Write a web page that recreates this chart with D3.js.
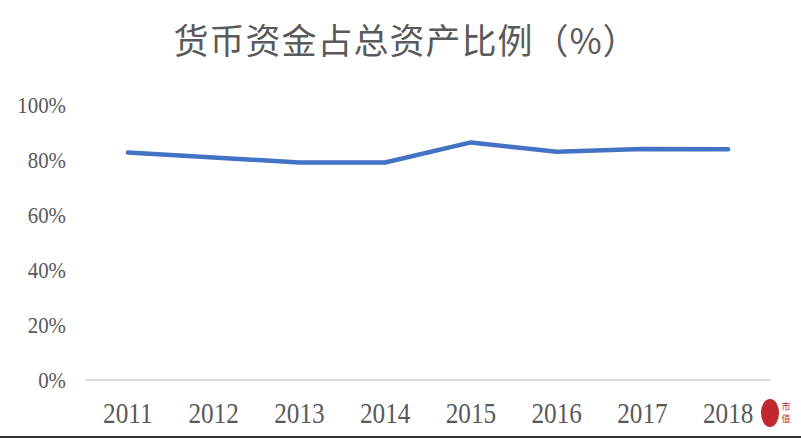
<!DOCTYPE html>
<html>
<head>
<meta charset="utf-8">
<script src="https://cdn.jsdelivr.net/npm/d3@7"></script>
<style>
  html, body { margin: 0; padding: 0; background: #ffffff; }
  svg { display: block; }
</style>
</head>
<body>
<svg id="chart" width="801" height="438"></svg>
<script>
const title = "货币资金占总资产比例（%）";
const years = ["2011", "2012", "2013", "2014", "2015", "2016", "2017", "2018"];
const ratio = [82.7, 80.9, 79.1, 79.1, 86.4, 83.0, 84.0, 83.9];
const yTicks = [0, 20, 40, 60, 80, 100];

const svg = d3.select("#chart");
const W = 801, H = 438;
const margin = { left: 85, right: 30, top: 105, bottom: 58 };

svg.append("rect").attr("width", W).attr("height", H).attr("fill", "#ffffff");

const x = d3.scaleBand().domain(years).range([margin.left, W - margin.right]).padding(0);
const y = d3.scaleLinear().domain([0, 100]).range([H - margin.bottom, margin.top]);

// title
svg.append("text")
  .attr("x", 406).attr("y", 54)
  .attr("text-anchor", "middle")
  .attr("font-family", "'Noto Sans CJK SC', sans-serif")
  .attr("font-size", 35)
  .attr("letter-spacing", 1)
  .attr("fill", "#5a5a5a")
  .text(title);

// x axis baseline
svg.append("line")
  .attr("x1", x.range()[0]).attr("x2", x.range()[1])
  .attr("y1", y(0)).attr("y2", y(0))
  .attr("stroke", "#d9d9d9").attr("stroke-width", 2);

// y labels
svg.append("g").selectAll("text").data(yTicks).join("text")
  .attr("transform", d => `translate(66,${y(d)}) scale(0.87,1)`)
  .attr("dy", "0.35em")
  .attr("text-anchor", "end")
  .attr("font-family", "'Liberation Serif', serif")
  .attr("font-size", 24)
  .attr("fill", "#595959")
  .text(d => d + "%");

// x labels
svg.append("g").selectAll("text").data(years).join("text")
  .attr("transform", d => `translate(${x(d) + x.bandwidth() / 2},423) scale(0.87,1)`)
  .attr("text-anchor", "middle")
  .attr("font-family", "'Liberation Serif', serif")
  .attr("font-size", 29)
  .attr("fill", "#595959")
  .text(d => d);

// line
const line = d3.line()
  .x((d, i) => x(years[i]) + x.bandwidth() / 2)
  .y(d => y(d));

svg.append("path")
  .datum(ratio)
  .attr("d", line)
  .attr("fill", "none")
  .attr("stroke", "#4472c4")
  .attr("stroke-width", 4.5)
  .attr("stroke-linecap", "round")
  .attr("stroke-linejoin", "round");

// logo mark
const logo = svg.append("g").attr("transform", "translate(770,413)");
logo.append("ellipse").attr("rx", 9).attr("ry", 14).attr("fill", "#c0282d");
const lt = logo.append("text")
  .attr("text-anchor", "middle")
  .attr("font-family", "'Noto Sans CJK SC', sans-serif").attr("font-size", 9)
  .attr("fill", "#c0282d");
lt.append("tspan").attr("x", 16).attr("y", -3).text("市");
lt.append("tspan").attr("x", 16).attr("y", 9).text("值");

// bottom frame line
svg.append("line")
  .attr("x1", 0).attr("x2", W).attr("y1", H - 1).attr("y2", H - 1)
  .attr("stroke", "#333333").attr("stroke-width", 2);
</script>
</body>
</html>
